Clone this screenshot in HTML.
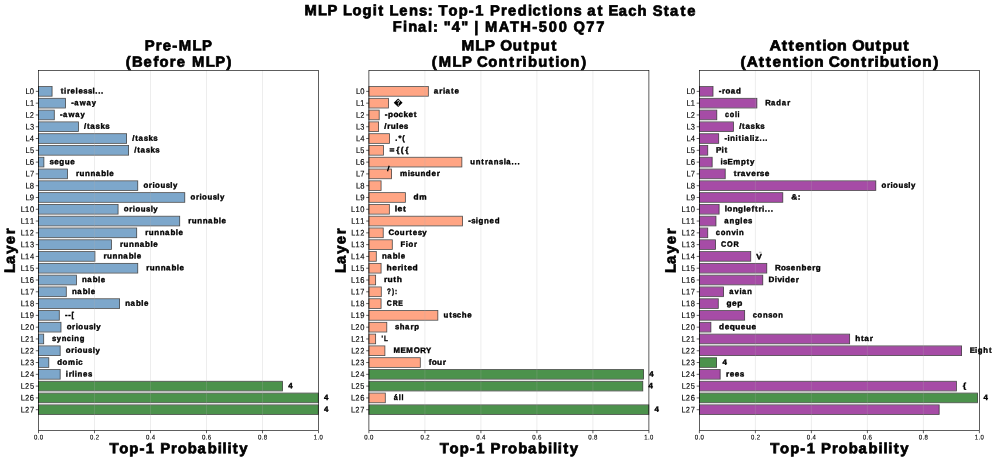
<!DOCTYPE html>
<html><head><meta charset="utf-8"><title>MLP Logit Lens</title>
<style>
html,body{margin:0;padding:0;background:#fff;}
body{width:996px;height:461px;overflow:hidden;font-family:"Liberation Sans",sans-serif;}
svg{display:block;will-change:transform;}
text{font-family:"Liberation Sans",sans-serif;white-space:pre;font-kerning:none;text-rendering:geometricPrecision;}
</style></head><body>
<svg width="996" height="461" viewBox="0 0 996 461" font-family="'Liberation Sans', sans-serif" fill="#000">
<rect width="996" height="461" fill="#fff"/>
<text transform="translate(303.33 15.3) rotate(0.06) scale(0.9939 1)" x="1.08 14.84 24.35 34.51 39.91 49.37 59.51 69.8 75.3 81.32 86.73 96.45 106.28 116.28 125.12 130.5 136.02 146.02 156.35 166.56 173.07 182.2 187.82 198.9 205.92 215.66 225.96 230.47 240.11 246.58 251.62 261.84 271.84 280.23 285.58 296.1 302.12 307.17 317.45 326.97 336.32 346.05 351.51 362.59 368.89 379.4 386.18" font-size="14.82" font-weight="bold" stroke="#000" stroke-width="0.73">MLP Logit Lens: Top-1 Predictions at Each State</text>
<text transform="translate(392.56 31.6) rotate(0.06) scale(0.9890 1)" x="0.31 10.48 15.75 25.78 35.83 40.86 46.26 51.67 59.9 69.51 76.84 82.55 87.3 93.53 107.33 118.81 129.13 141.2 147.71 157.89 168.1 177.31 182.88 195.77 205.97" font-size="14.82" font-weight="bold" stroke="#000" stroke-width="0.73">Final: &quot;4&quot; | MATH-500 Q77</text>
<g>
<rect x="38.5" y="86.82" width="13.5" height="9.1" fill="rgb(125,167,203)"/>
<rect x="38.5" y="86.52" width="13.6" height="9.7" fill="none" stroke="#000" stroke-opacity="0.7" stroke-width="0.8"/>
<rect x="38.5" y="98.61" width="26.87" height="9.1" fill="rgb(125,167,203)"/>
<rect x="38.5" y="98.31" width="26.97" height="9.7" fill="none" stroke="#000" stroke-opacity="0.7" stroke-width="0.8"/>
<rect x="38.5" y="110.4" width="15.7" height="9.1" fill="rgb(125,167,203)"/>
<rect x="38.5" y="110.1" width="15.8" height="9.7" fill="none" stroke="#000" stroke-opacity="0.7" stroke-width="0.8"/>
<rect x="38.5" y="122.19" width="39.8" height="9.1" fill="rgb(125,167,203)"/>
<rect x="38.5" y="121.89" width="39.9" height="9.7" fill="none" stroke="#000" stroke-opacity="0.7" stroke-width="0.8"/>
<rect x="38.5" y="133.98" width="88" height="9.1" fill="rgb(125,167,203)"/>
<rect x="38.5" y="133.68" width="88.1" height="9.7" fill="none" stroke="#000" stroke-opacity="0.7" stroke-width="0.8"/>
<rect x="38.5" y="145.77" width="90" height="9.1" fill="rgb(125,167,203)"/>
<rect x="38.5" y="145.47" width="90.1" height="9.7" fill="none" stroke="#000" stroke-opacity="0.7" stroke-width="0.8"/>
<rect x="38.5" y="157.56" width="5.3" height="9.1" fill="rgb(125,167,203)"/>
<rect x="38.5" y="157.26" width="5.4" height="9.7" fill="none" stroke="#000" stroke-opacity="0.7" stroke-width="0.8"/>
<rect x="38.5" y="169.35" width="28.9" height="9.1" fill="rgb(125,167,203)"/>
<rect x="38.5" y="169.05" width="29" height="9.7" fill="none" stroke="#000" stroke-opacity="0.7" stroke-width="0.8"/>
<rect x="38.5" y="181.14" width="99.15" height="9.1" fill="rgb(125,167,203)"/>
<rect x="38.5" y="180.84" width="99.25" height="9.7" fill="none" stroke="#000" stroke-opacity="0.7" stroke-width="0.8"/>
<rect x="38.5" y="192.93" width="146.17" height="9.1" fill="rgb(125,167,203)"/>
<rect x="38.5" y="192.63" width="146.27" height="9.7" fill="none" stroke="#000" stroke-opacity="0.7" stroke-width="0.8"/>
<rect x="38.5" y="204.72" width="79.5" height="9.1" fill="rgb(125,167,203)"/>
<rect x="38.5" y="204.42" width="79.6" height="9.7" fill="none" stroke="#000" stroke-opacity="0.7" stroke-width="0.8"/>
<rect x="38.5" y="216.51" width="141.1" height="9.1" fill="rgb(125,167,203)"/>
<rect x="38.5" y="216.21" width="141.2" height="9.7" fill="none" stroke="#000" stroke-opacity="0.7" stroke-width="0.8"/>
<rect x="38.5" y="228.3" width="98.1" height="9.1" fill="rgb(125,167,203)"/>
<rect x="38.5" y="228" width="98.2" height="9.7" fill="none" stroke="#000" stroke-opacity="0.7" stroke-width="0.8"/>
<rect x="38.5" y="240.09" width="72.8" height="9.1" fill="rgb(125,167,203)"/>
<rect x="38.5" y="239.79" width="72.9" height="9.7" fill="none" stroke="#000" stroke-opacity="0.7" stroke-width="0.8"/>
<rect x="38.5" y="251.88" width="56.35" height="9.1" fill="rgb(125,167,203)"/>
<rect x="38.5" y="251.58" width="56.45" height="9.7" fill="none" stroke="#000" stroke-opacity="0.7" stroke-width="0.8"/>
<rect x="38.5" y="263.67" width="99.15" height="9.1" fill="rgb(125,167,203)"/>
<rect x="38.5" y="263.37" width="99.25" height="9.7" fill="none" stroke="#000" stroke-opacity="0.7" stroke-width="0.8"/>
<rect x="38.5" y="275.46" width="37.8" height="9.1" fill="rgb(125,167,203)"/>
<rect x="38.5" y="275.16" width="37.9" height="9.7" fill="none" stroke="#000" stroke-opacity="0.7" stroke-width="0.8"/>
<rect x="38.5" y="287.25" width="27.7" height="9.1" fill="rgb(125,167,203)"/>
<rect x="38.5" y="286.95" width="27.8" height="9.7" fill="none" stroke="#000" stroke-opacity="0.7" stroke-width="0.8"/>
<rect x="38.5" y="299.04" width="81" height="9.1" fill="rgb(125,167,203)"/>
<rect x="38.5" y="298.74" width="81.1" height="9.7" fill="none" stroke="#000" stroke-opacity="0.7" stroke-width="0.8"/>
<rect x="38.5" y="310.83" width="20.7" height="9.1" fill="rgb(125,167,203)"/>
<rect x="38.5" y="310.53" width="20.8" height="9.7" fill="none" stroke="#000" stroke-opacity="0.7" stroke-width="0.8"/>
<rect x="38.5" y="322.62" width="22.4" height="9.1" fill="rgb(125,167,203)"/>
<rect x="38.5" y="322.32" width="22.5" height="9.7" fill="none" stroke="#000" stroke-opacity="0.7" stroke-width="0.8"/>
<rect x="38.5" y="334.41" width="5.1" height="9.1" fill="rgb(125,167,203)"/>
<rect x="38.5" y="334.11" width="5.2" height="9.7" fill="none" stroke="#000" stroke-opacity="0.7" stroke-width="0.8"/>
<rect x="38.5" y="346.2" width="21.6" height="9.1" fill="rgb(125,167,203)"/>
<rect x="38.5" y="345.9" width="21.7" height="9.7" fill="none" stroke="#000" stroke-opacity="0.7" stroke-width="0.8"/>
<rect x="38.5" y="357.99" width="10.2" height="9.1" fill="rgb(125,167,203)"/>
<rect x="38.5" y="357.69" width="10.3" height="9.7" fill="none" stroke="#000" stroke-opacity="0.7" stroke-width="0.8"/>
<rect x="38.5" y="369.78" width="21.6" height="9.1" fill="rgb(125,167,203)"/>
<rect x="38.5" y="369.48" width="21.7" height="9.7" fill="none" stroke="#000" stroke-opacity="0.7" stroke-width="0.8"/>
<rect x="38.5" y="381.57" width="243.9" height="9.1" fill="rgb(76,146,76)"/>
<rect x="38.5" y="381.27" width="244" height="9.7" fill="none" stroke="#000" stroke-opacity="0.7" stroke-width="0.8"/>
<rect x="38.5" y="393.36" width="279.7" height="9.1" fill="rgb(76,146,76)"/>
<rect x="38.5" y="393.06" width="279.8" height="9.7" fill="none" stroke="#000" stroke-opacity="0.7" stroke-width="0.8"/>
<rect x="38.5" y="405.15" width="279.7" height="9.1" fill="rgb(76,146,76)"/>
<rect x="38.5" y="404.85" width="279.8" height="9.7" fill="none" stroke="#000" stroke-opacity="0.7" stroke-width="0.8"/>
<line x1="94.5" y1="70.4" x2="94.5" y2="430.5" stroke="#b0b0b0" stroke-opacity="0.3" stroke-width="0.75"/>
<line x1="150.5" y1="70.4" x2="150.5" y2="430.5" stroke="#b0b0b0" stroke-opacity="0.3" stroke-width="0.75"/>
<line x1="206.5" y1="70.4" x2="206.5" y2="430.5" stroke="#b0b0b0" stroke-opacity="0.3" stroke-width="0.75"/>
<line x1="262.5" y1="70.4" x2="262.5" y2="430.5" stroke="#b0b0b0" stroke-opacity="0.3" stroke-width="0.75"/>
<path d="M35.8 91.37H38.5M35.8 103.16H38.5M35.8 114.95H38.5M35.8 126.74H38.5M35.8 138.53H38.5M35.8 150.32H38.5M35.8 162.11H38.5M35.8 173.9H38.5M35.8 185.69H38.5M35.8 197.48H38.5M35.8 209.27H38.5M35.8 221.06H38.5M35.8 232.85H38.5M35.8 244.64H38.5M35.8 256.43H38.5M35.8 268.22H38.5M35.8 280.01H38.5M35.8 291.8H38.5M35.8 303.59H38.5M35.8 315.38H38.5M35.8 327.17H38.5M35.8 338.96H38.5M35.8 350.75H38.5M35.8 362.54H38.5M35.8 374.33H38.5M35.8 386.12H38.5M35.8 397.91H38.5M35.8 409.7H38.5M38.5 430.5V433.2M94.5 430.5V433.2M150.5 430.5V433.2M206.5 430.5V433.2M262.5 430.5V433.2M318.5 430.5V433.2" stroke="#000" stroke-width="0.62" fill="none"/>
<text transform="translate(60.16 93.47) rotate(0.06) scale(1.0041 1)" x="0.48 3.87 6.72 10.38 15.4 18.16 23.09 27.62 32.25 35 37.9 40.79" font-size="7.82" font-weight="bold" stroke="#000" stroke-width="0.38">tirelessl...</text>
<text transform="translate(70.87 105.26) rotate(0.06) scale(0.9758 1)" x="0.33 3.45 9.13 15.98 21.43" font-size="7.82" font-weight="bold" stroke="#000" stroke-width="0.38">-away</text>
<text transform="translate(59.7 117.05) rotate(0.06) scale(0.9758 1)" x="0.33 3.45 9.13 15.98 21.43" font-size="7.82" font-weight="bold" stroke="#000" stroke-width="0.38">-away</text>
<text transform="translate(83.8 128.84) rotate(0.06) scale(1.0189 1)" x="0.29 3.2 6.42 11.5 16.3 20.96" font-size="7.82" font-weight="bold" stroke="#000" stroke-width="0.38">/tasks</text>
<text transform="translate(132 140.63) rotate(0.06) scale(1.0189 1)" x="0.29 3.2 6.42 11.5 16.3 20.96" font-size="7.82" font-weight="bold" stroke="#000" stroke-width="0.38">/tasks</text>
<text transform="translate(134 152.42) rotate(0.06) scale(1.0189 1)" x="0.29 3.2 6.42 11.5 16.3 20.96" font-size="7.82" font-weight="bold" stroke="#000" stroke-width="0.38">/tasks</text>
<text transform="translate(49.3 164.21) rotate(0.06) scale(1.0288 1)" x="0.08 4.73 9.7 15.04 20.39" font-size="7.82" font-weight="bold" stroke="#000" stroke-width="0.38">segue</text>
<text transform="translate(75.56 176) rotate(0.06) scale(1.0196 1)" x="0.43 3.98 9.33 14.67 19.81 25.13 30.36 33.06" font-size="7.82" font-weight="bold" stroke="#000" stroke-width="0.38">runnable</text>
<text transform="translate(143.15 187.79) rotate(0.06) scale(1.0007 1)" x="0.24 5.73 9.25 11.88 17.22 22.48 27.11 29.79" font-size="7.82" font-weight="bold" stroke="#000" stroke-width="0.38">oriously</text>
<text transform="translate(190.17 199.58) rotate(0.06) scale(1.0007 1)" x="0.24 5.73 9.25 11.88 17.22 22.48 27.11 29.79" font-size="7.82" font-weight="bold" stroke="#000" stroke-width="0.38">oriously</text>
<text transform="translate(123.5 211.37) rotate(0.06) scale(1.0007 1)" x="0.24 5.73 9.25 11.88 17.22 22.48 27.11 29.79" font-size="7.82" font-weight="bold" stroke="#000" stroke-width="0.38">oriously</text>
<text transform="translate(187.76 223.16) rotate(0.06) scale(1.0196 1)" x="0.43 3.98 9.33 14.67 19.81 25.13 30.36 33.06" font-size="7.82" font-weight="bold" stroke="#000" stroke-width="0.38">runnable</text>
<text transform="translate(144.76 234.95) rotate(0.06) scale(1.0196 1)" x="0.43 3.98 9.33 14.67 19.81 25.13 30.36 33.06" font-size="7.82" font-weight="bold" stroke="#000" stroke-width="0.38">runnable</text>
<text transform="translate(119.46 246.74) rotate(0.06) scale(1.0196 1)" x="0.43 3.98 9.33 14.67 19.81 25.13 30.36 33.06" font-size="7.82" font-weight="bold" stroke="#000" stroke-width="0.38">runnable</text>
<text transform="translate(103.01 258.53) rotate(0.06) scale(1.0196 1)" x="0.43 3.98 9.33 14.67 19.81 25.13 30.36 33.06" font-size="7.82" font-weight="bold" stroke="#000" stroke-width="0.38">runnable</text>
<text transform="translate(145.81 270.32) rotate(0.06) scale(1.0196 1)" x="0.43 3.98 9.33 14.67 19.81 25.13 30.36 33.06" font-size="7.82" font-weight="bold" stroke="#000" stroke-width="0.38">runnable</text>
<text transform="translate(81.8 282.11) rotate(0.06) scale(1.0066 1)" x="0.32 5.53 10.92 16.2 18.95" font-size="7.82" font-weight="bold" stroke="#000" stroke-width="0.38">nable</text>
<text transform="translate(71.7 293.9) rotate(0.06) scale(1.0066 1)" x="0.32 5.53 10.92 16.2 18.95" font-size="7.82" font-weight="bold" stroke="#000" stroke-width="0.38">nable</text>
<text transform="translate(125 305.69) rotate(0.06) scale(1.0066 1)" x="0.32 5.53 10.92 16.2 18.95" font-size="7.82" font-weight="bold" stroke="#000" stroke-width="0.38">nable</text>
<text transform="translate(64.7 317.48) rotate(0.06) scale(0.9709 1)" x="0.34 3.61 6.94" font-size="7.82" font-weight="bold" stroke="#000" stroke-width="0.38">--[</text>
<text transform="translate(66.4 329.27) rotate(0.06) scale(1.0007 1)" x="0.24 5.73 9.25 11.88 17.22 22.48 27.11 29.79" font-size="7.82" font-weight="bold" stroke="#000" stroke-width="0.38">oriously</text>
<text transform="translate(51.76 341.06) rotate(0.06) scale(0.9770 1)" x="0.2 5.01 10.17 15.35 20.24 23.07 28.6" font-size="7.82" font-weight="bold" stroke="#000" stroke-width="0.38">syncing</text>
<text transform="translate(65.6 352.85) rotate(0.06) scale(1.0007 1)" x="0.24 5.73 9.25 11.88 17.22 22.48 27.11 29.79" font-size="7.82" font-weight="bold" stroke="#000" stroke-width="0.38">oriously</text>
<text transform="translate(56.86 364.64) rotate(0.06) scale(0.9998 1)" x="0.3 5.72 11.24 18.94 21.29" font-size="7.82" font-weight="bold" stroke="#000" stroke-width="0.38">domic</text>
<text transform="translate(65.6 376.43) rotate(0.06) scale(1.0001 1)" x="0.23 3.1 6.62 9.24 11.98 17.46 22.41" font-size="7.82" font-weight="bold" stroke="#000" stroke-width="0.38">irlines</text>
<text transform="translate(287.9 388.22) rotate(0.06) scale(1.0138 1)" x="0.41" font-size="7.82" font-weight="bold" stroke="#000" stroke-width="0.38">4</text>
<text transform="translate(323.7 400.01) rotate(0.06) scale(1.0138 1)" x="0.41" font-size="7.82" font-weight="bold" stroke="#000" stroke-width="0.38">4</text>
<text transform="translate(323.7 411.8) rotate(0.06) scale(1.0138 1)" x="0.41" font-size="7.82" font-weight="bold" stroke="#000" stroke-width="0.38">4</text>
<rect x="38.5" y="70.4" width="280" height="360.1" fill="none" stroke="#000" stroke-width="0.63"/>
<text transform="translate(25.33 94.07) rotate(0.06) scale(0.9331 1)" x="0.19 4.87" font-size="8.13" stroke="#000" stroke-width="0.15">L0</text>
<text transform="translate(25.33 105.86) rotate(0.06) scale(0.9085 1)" x="0.26 5.02" font-size="8.13" stroke="#000" stroke-width="0.15">L1</text>
<text transform="translate(25.33 117.65) rotate(0.06) scale(0.9137 1)" x="0.24 4.91" font-size="8.13" stroke="#000" stroke-width="0.15">L2</text>
<text transform="translate(25.33 129.44) rotate(0.06) scale(0.9127 1)" x="0.25 5.03" font-size="8.13" stroke="#000" stroke-width="0.15">L3</text>
<text transform="translate(25.33 141.23) rotate(0.06) scale(0.9346 1)" x="0.18 4.85" font-size="8.13" stroke="#000" stroke-width="0.15">L4</text>
<text transform="translate(25.33 153.02) rotate(0.06) scale(0.9042 1)" x="0.27 5.06" font-size="8.13" stroke="#000" stroke-width="0.15">L5</text>
<text transform="translate(25.33 164.81) rotate(0.06) scale(0.9498 1)" x="0.14 4.74" font-size="8.13" stroke="#000" stroke-width="0.15">L6</text>
<text transform="translate(25.33 176.6) rotate(0.06) scale(0.9209 1)" x="0.22 4.94" font-size="8.13" stroke="#000" stroke-width="0.15">L7</text>
<text transform="translate(25.33 188.39) rotate(0.06) scale(0.9381 1)" x="0.17 4.83" font-size="8.13" stroke="#000" stroke-width="0.15">L8</text>
<text transform="translate(25.33 200.18) rotate(0.06) scale(0.9488 1)" x="0.14 4.72" font-size="8.13" stroke="#000" stroke-width="0.15">L9</text>
<text transform="translate(20.5 211.97) rotate(0.06) scale(0.9218 1)" x="0.22 4.92 10.2" font-size="8.13" stroke="#000" stroke-width="0.15">L10</text>
<text transform="translate(20.5 223.76) rotate(0.06) scale(0.9049 1)" x="0.27 5.05 10.4" font-size="8.13" stroke="#000" stroke-width="0.15">L11</text>
<text transform="translate(20.5 235.55) rotate(0.06) scale(0.9085 1)" x="0.26 5.02 10.27" font-size="8.13" stroke="#000" stroke-width="0.15">L12</text>
<text transform="translate(20.5 247.34) rotate(0.06) scale(0.9078 1)" x="0.26 5.03 10.4" font-size="8.13" stroke="#000" stroke-width="0.15">L13</text>
<text transform="translate(20.5 259.13) rotate(0.06) scale(0.9230 1)" x="0.22 4.91 10.18" font-size="8.13" stroke="#000" stroke-width="0.15">L14</text>
<text transform="translate(20.5 270.92) rotate(0.06) scale(0.9021 1)" x="0.28 5.08 10.44" font-size="8.13" stroke="#000" stroke-width="0.15">L15</text>
<text transform="translate(20.5 282.71) rotate(0.06) scale(0.9329 1)" x="0.19 4.83 10.05" font-size="8.13" stroke="#000" stroke-width="0.15">L16</text>
<text transform="translate(20.5 294.5) rotate(0.06) scale(0.9133 1)" x="0.24 4.98 10.3" font-size="8.13" stroke="#000" stroke-width="0.15">L17</text>
<text transform="translate(20.5 306.29) rotate(0.06) scale(0.9251 1)" x="0.21 4.89 10.15" font-size="8.13" stroke="#000" stroke-width="0.15">L18</text>
<text transform="translate(20.5 318.08) rotate(0.06) scale(0.9322 1)" x="0.19 4.83 10.03" font-size="8.13" stroke="#000" stroke-width="0.15">L19</text>
<text transform="translate(20.5 329.87) rotate(0.06) scale(0.9250 1)" x="0.21 4.82 10.16" font-size="8.13" stroke="#000" stroke-width="0.15">L20</text>
<text transform="translate(20.5 341.66) rotate(0.06) scale(0.9085 1)" x="0.26 4.95 10.35" font-size="8.13" stroke="#000" stroke-width="0.15">L21</text>
<text transform="translate(20.5 353.45) rotate(0.06) scale(0.9120 1)" x="0.25 4.92 10.22" font-size="8.13" stroke="#000" stroke-width="0.15">L22</text>
<text transform="translate(20.5 365.24) rotate(0.06) scale(0.9113 1)" x="0.25 4.93 10.35" font-size="8.13" stroke="#000" stroke-width="0.15">L23</text>
<text transform="translate(20.5 377.03) rotate(0.06) scale(0.9261 1)" x="0.21 4.81 10.14" font-size="8.13" stroke="#000" stroke-width="0.15">L24</text>
<text transform="translate(20.5 388.82) rotate(0.06) scale(0.9057 1)" x="0.27 4.97 10.39" font-size="8.13" stroke="#000" stroke-width="0.15">L25</text>
<text transform="translate(20.5 400.61) rotate(0.06) scale(0.9360 1)" x="0.18 4.74 10.01" font-size="8.13" stroke="#000" stroke-width="0.15">L26</text>
<text transform="translate(20.5 412.4) rotate(0.06) scale(0.9167 1)" x="0.23 4.88 10.25" font-size="8.13" stroke="#000" stroke-width="0.15">L27</text>
<text transform="translate(33.69 439.45) rotate(0.06) scale(0.8846 1)" x="0.27 4.49 6.8" font-size="6.84" stroke="#000" stroke-width="0.12">0.0</text>
<text transform="translate(89.79 439.45) rotate(0.06) scale(0.8686 1)" x="0.31 4.59 6.87" font-size="6.84" stroke="#000" stroke-width="0.12">0.2</text>
<text transform="translate(145.66 439.45) rotate(0.06) scale(0.8858 1)" x="0.27 4.48 6.78" font-size="6.84" stroke="#000" stroke-width="0.12">0.4</text>
<text transform="translate(201.68 439.45) rotate(0.06) scale(0.8984 1)" x="0.24 4.4 6.67" font-size="6.84" stroke="#000" stroke-width="0.12">0.6</text>
<text transform="translate(257.7 439.45) rotate(0.06) scale(0.8887 1)" x="0.26 4.46 6.76" font-size="6.84" stroke="#000" stroke-width="0.12">0.8</text>
<text transform="translate(313.56 439.45) rotate(0.06) scale(0.8644 1)" x="0.29 4.61 7" font-size="6.84" stroke="#000" stroke-width="0.12">1.0</text>
<text transform="translate(144.17 50.45) rotate(0.06) scale(1.0044 1)" x="0.47 11.47 18.4 28.03 34.49 48.12 57.52" font-size="14.82" font-weight="bold" stroke="#000" stroke-width="0.73">Pre-MLP</text>
<text transform="translate(125.13 66.65) rotate(0.06) scale(0.9958 1)" x="0.54 6.85 18.49 28.39 34.44 44.89 51.89 61.02 67.16 80.89 90.38 101.71" font-size="14.82" font-weight="bold" stroke="#000" stroke-width="0.73">(Before MLP)</text>
<text transform="translate(109.08 453.15) rotate(0.06) scale(1.0154 1)" x="0.33 9.98 19.95 29.86 36.1 45.01 50.32 61.06 67.55 77.52 87.11 97.11 106.91 111.74 116.56 121.86 128.2" font-size="14.61" font-weight="bold" stroke="#000" stroke-width="0.72">Top-1 Probability</text>
<g transform="translate(14.7 250) rotate(-90)">
<text transform="translate(-23.37 0) rotate(0.06) scale(1.0014 1)" x="0.29 9.47 19.54 29.15 39.16" font-size="14.82" font-weight="bold" stroke="#000" stroke-width="0.73">Layer</text>
</g>
</g>
<g>
<rect x="368.9" y="86.82" width="59.35" height="9.1" fill="rgb(255,165,132)"/>
<rect x="368.9" y="86.52" width="59.45" height="9.7" fill="none" stroke="#000" stroke-opacity="0.7" stroke-width="0.8"/>
<rect x="368.9" y="98.61" width="19.5" height="9.1" fill="rgb(255,165,132)"/>
<rect x="368.9" y="98.31" width="19.6" height="9.7" fill="none" stroke="#000" stroke-opacity="0.7" stroke-width="0.8"/>
<rect x="368.9" y="110.4" width="10.2" height="9.1" fill="rgb(255,165,132)"/>
<rect x="368.9" y="110.1" width="10.3" height="9.7" fill="none" stroke="#000" stroke-opacity="0.7" stroke-width="0.8"/>
<rect x="368.9" y="122.19" width="9.6" height="9.1" fill="rgb(255,165,132)"/>
<rect x="368.9" y="121.89" width="9.7" height="9.7" fill="none" stroke="#000" stroke-opacity="0.7" stroke-width="0.8"/>
<rect x="368.9" y="133.98" width="20.56" height="9.1" fill="rgb(255,165,132)"/>
<rect x="368.9" y="133.68" width="20.66" height="9.7" fill="none" stroke="#000" stroke-opacity="0.7" stroke-width="0.8"/>
<rect x="368.9" y="145.77" width="14.4" height="9.1" fill="rgb(255,165,132)"/>
<rect x="368.9" y="145.47" width="14.5" height="9.7" fill="none" stroke="#000" stroke-opacity="0.7" stroke-width="0.8"/>
<rect x="368.9" y="157.56" width="92.87" height="9.1" fill="rgb(255,165,132)"/>
<rect x="368.9" y="157.26" width="92.97" height="9.7" fill="none" stroke="#000" stroke-opacity="0.7" stroke-width="0.8"/>
<rect x="368.9" y="169.35" width="22.55" height="9.1" fill="rgb(255,165,132)"/>
<rect x="368.9" y="169.05" width="22.65" height="9.7" fill="none" stroke="#000" stroke-opacity="0.7" stroke-width="0.8"/>
<rect x="368.9" y="181.14" width="12.1" height="9.1" fill="rgb(255,165,132)"/>
<rect x="368.9" y="180.84" width="12.2" height="9.7" fill="none" stroke="#000" stroke-opacity="0.7" stroke-width="0.8"/>
<rect x="368.9" y="192.93" width="36.37" height="9.1" fill="rgb(255,165,132)"/>
<rect x="368.9" y="192.63" width="36.47" height="9.7" fill="none" stroke="#000" stroke-opacity="0.7" stroke-width="0.8"/>
<rect x="368.9" y="204.72" width="20.35" height="9.1" fill="rgb(255,165,132)"/>
<rect x="368.9" y="204.42" width="20.45" height="9.7" fill="none" stroke="#000" stroke-opacity="0.7" stroke-width="0.8"/>
<rect x="368.9" y="216.51" width="93.5" height="9.1" fill="rgb(255,165,132)"/>
<rect x="368.9" y="216.21" width="93.6" height="9.7" fill="none" stroke="#000" stroke-opacity="0.7" stroke-width="0.8"/>
<rect x="368.9" y="228.3" width="14.23" height="9.1" fill="rgb(255,165,132)"/>
<rect x="368.9" y="228" width="14.33" height="9.7" fill="none" stroke="#000" stroke-opacity="0.7" stroke-width="0.8"/>
<rect x="368.9" y="240.09" width="23.3" height="9.1" fill="rgb(255,165,132)"/>
<rect x="368.9" y="239.79" width="23.4" height="9.7" fill="none" stroke="#000" stroke-opacity="0.7" stroke-width="0.8"/>
<rect x="368.9" y="251.88" width="7.3" height="9.1" fill="rgb(255,165,132)"/>
<rect x="368.9" y="251.58" width="7.4" height="9.7" fill="none" stroke="#000" stroke-opacity="0.7" stroke-width="0.8"/>
<rect x="368.9" y="263.67" width="12.1" height="9.1" fill="rgb(255,165,132)"/>
<rect x="368.9" y="263.37" width="12.2" height="9.7" fill="none" stroke="#000" stroke-opacity="0.7" stroke-width="0.8"/>
<rect x="368.9" y="275.46" width="6.64" height="9.1" fill="rgb(255,165,132)"/>
<rect x="368.9" y="275.16" width="6.74" height="9.7" fill="none" stroke="#000" stroke-opacity="0.7" stroke-width="0.8"/>
<rect x="368.9" y="287.25" width="12.3" height="9.1" fill="rgb(255,165,132)"/>
<rect x="368.9" y="286.95" width="12.4" height="9.7" fill="none" stroke="#000" stroke-opacity="0.7" stroke-width="0.8"/>
<rect x="368.9" y="299.04" width="12.1" height="9.1" fill="rgb(255,165,132)"/>
<rect x="368.9" y="298.74" width="12.2" height="9.7" fill="none" stroke="#000" stroke-opacity="0.7" stroke-width="0.8"/>
<rect x="368.9" y="310.83" width="68.84" height="9.1" fill="rgb(255,165,132)"/>
<rect x="368.9" y="310.53" width="68.94" height="9.7" fill="none" stroke="#000" stroke-opacity="0.7" stroke-width="0.8"/>
<rect x="368.9" y="322.62" width="17.8" height="9.1" fill="rgb(255,165,132)"/>
<rect x="368.9" y="322.32" width="17.9" height="9.7" fill="none" stroke="#000" stroke-opacity="0.7" stroke-width="0.8"/>
<rect x="368.9" y="334.41" width="6.64" height="9.1" fill="rgb(255,165,132)"/>
<rect x="368.9" y="334.11" width="6.74" height="9.7" fill="none" stroke="#000" stroke-opacity="0.7" stroke-width="0.8"/>
<rect x="368.9" y="346.2" width="15.9" height="9.1" fill="rgb(255,165,132)"/>
<rect x="368.9" y="345.9" width="16" height="9.7" fill="none" stroke="#000" stroke-opacity="0.7" stroke-width="0.8"/>
<rect x="368.9" y="357.99" width="51.3" height="9.1" fill="rgb(255,165,132)"/>
<rect x="368.9" y="357.69" width="51.4" height="9.7" fill="none" stroke="#000" stroke-opacity="0.7" stroke-width="0.8"/>
<rect x="368.9" y="369.78" width="274.54" height="9.1" fill="rgb(76,146,76)"/>
<rect x="368.9" y="369.48" width="274.64" height="9.7" fill="none" stroke="#000" stroke-opacity="0.7" stroke-width="0.8"/>
<rect x="368.9" y="381.57" width="273.8" height="9.1" fill="rgb(76,146,76)"/>
<rect x="368.9" y="381.27" width="273.9" height="9.7" fill="none" stroke="#000" stroke-opacity="0.7" stroke-width="0.8"/>
<rect x="368.9" y="393.36" width="16.3" height="9.1" fill="rgb(255,165,132)"/>
<rect x="368.9" y="393.06" width="16.4" height="9.7" fill="none" stroke="#000" stroke-opacity="0.7" stroke-width="0.8"/>
<rect x="368.9" y="405.15" width="279.8" height="9.1" fill="rgb(76,146,76)"/>
<rect x="368.9" y="404.85" width="279.9" height="9.7" fill="none" stroke="#000" stroke-opacity="0.7" stroke-width="0.8"/>
<line x1="424.9" y1="70.4" x2="424.9" y2="430.5" stroke="#b0b0b0" stroke-opacity="0.3" stroke-width="0.75"/>
<line x1="480.9" y1="70.4" x2="480.9" y2="430.5" stroke="#b0b0b0" stroke-opacity="0.3" stroke-width="0.75"/>
<line x1="536.9" y1="70.4" x2="536.9" y2="430.5" stroke="#b0b0b0" stroke-opacity="0.3" stroke-width="0.75"/>
<line x1="592.9" y1="70.4" x2="592.9" y2="430.5" stroke="#b0b0b0" stroke-opacity="0.3" stroke-width="0.75"/>
<path d="M366.2 91.37H368.9M366.2 103.16H368.9M366.2 114.95H368.9M366.2 126.74H368.9M366.2 138.53H368.9M366.2 150.32H368.9M366.2 162.11H368.9M366.2 173.9H368.9M366.2 185.69H368.9M366.2 197.48H368.9M366.2 209.27H368.9M366.2 221.06H368.9M366.2 232.85H368.9M366.2 244.64H368.9M366.2 256.43H368.9M366.2 268.22H368.9M366.2 280.01H368.9M366.2 291.8H368.9M366.2 303.59H368.9M366.2 315.38H368.9M366.2 327.17H368.9M366.2 338.96H368.9M366.2 350.75H368.9M366.2 362.54H368.9M366.2 374.33H368.9M366.2 386.12H368.9M366.2 397.91H368.9M366.2 409.7H368.9M368.9 430.5V433.2M424.9 430.5V433.2M480.9 430.5V433.2M536.9 430.5V433.2M592.9 430.5V433.2M648.9 430.5V433.2" stroke="#000" stroke-width="0.62" fill="none"/>
<text transform="translate(433.75 93.47) rotate(0.06) scale(1.0265 1)" x="0.07 5.45 8.9 11.33 16.73 20.16" font-size="7.82" font-weight="bold" stroke="#000" stroke-width="0.38">ariate</text>
<path d="M398.16 98.48L402.58 102.8L398.16 107.12L393.73 102.8Z" fill="#000"/>
<path d="M397.26 101.5Q397.46 100.3 398.46 100.4Q399.56 100.6 399.36 101.6Q399.16 102.4 398.36 103L398.31 103.8" fill="none" stroke="#fff" stroke-width="1.0"/>
<circle cx="398.31" cy="105" r="0.55" fill="#fff"/>
<text transform="translate(384.6 117.05) rotate(0.06) scale(1.0423 1)" x="0.23 3.33 8.43 13.22 18.06 22.85 27.97" font-size="7.82" font-weight="bold" stroke="#000" stroke-width="0.38">-pocket</text>
<text transform="translate(384 128.84) rotate(0.06) scale(1.0375 1)" x="0.26 3.09 6.56 11.76 14.39 19.17" font-size="7.82" font-weight="bold" stroke="#000" stroke-width="0.38">/rules</text>
<text transform="translate(394.96 140.63) rotate(0.06) scale(0.9677 1)" x="0.42 3.54 7.47" font-size="7.82" font-weight="bold" stroke="#000" stroke-width="0.38">.*(</text>
<text transform="translate(388.8 152.42) rotate(0.06) scale(1.0791 1)" x="0.69 6.96 11.13 15.25" font-size="7.82" font-weight="bold" stroke="#000" stroke-width="0.38">={({</text>
<text transform="translate(469.93 164.21) rotate(0.06) scale(0.9855 1)" x="0.37 5.91 11.57 15.27 18.76 24.21 29.53 34.23 36.81 42.27 45.22 48.17" font-size="7.82" font-weight="bold" stroke="#000" stroke-width="0.38">untransla...</text>
<text transform="translate(399.61 176) rotate(0.06) scale(1.0299 1)" x="0.39 7.93 10.36 14.96 20.26 25.51 30.91 36.05" font-size="7.82" font-weight="bold" stroke="#000" stroke-width="0.38">misunder</text>
<text transform="translate(413.43 199.58) rotate(0.06) scale(1.0571 1)" x="0.16 5.47" font-size="7.82" font-weight="bold" stroke="#000" stroke-width="0.38">dm</text>
<text transform="translate(394.75 211.37) rotate(0.06) scale(1.1101 1)" x="0.1 2.49 7.35" font-size="7.82" font-weight="bold" stroke="#000" stroke-width="0.38">let</text>
<text transform="translate(467.9 223.16) rotate(0.06) scale(1.0109 1)" x="0.27 3.26 7.86 10.51 15.97 21.4 26.45" font-size="7.82" font-weight="bold" stroke="#000" stroke-width="0.38">-signed</text>
<text transform="translate(388.63 234.95) rotate(0.06) scale(1.0125 1)" x="-0.16 5.75 11.03 16.56 20.31 23.8 28.69 33.33" font-size="7.82" font-weight="bold" stroke="#000" stroke-width="0.38">Courtesy</text>
<text transform="translate(400.36 246.74) rotate(0.06) scale(0.9812 1)" x="0.19 5.58 8.29 13.87" font-size="7.82" font-weight="bold" stroke="#000" stroke-width="0.38">Fior</text>
<text transform="translate(381.7 258.53) rotate(0.06) scale(1.0066 1)" x="0.32 5.53 10.92 16.2 18.95" font-size="7.82" font-weight="bold" stroke="#000" stroke-width="0.38">nable</text>
<text transform="translate(386.5 270.32) rotate(0.06) scale(1.0802 1)" x="0.12 5.23 10.16 13.47 16.12 19.34 24.06" font-size="7.82" font-weight="bold" stroke="#000" stroke-width="0.38">herited</text>
<text transform="translate(383.7 282.11) rotate(0.06) scale(1.0833 1)" x="0.31 3.6 8.86 12" font-size="7.82" font-weight="bold" stroke="#000" stroke-width="0.38">ruth</text>
<text transform="translate(386.7 293.9) rotate(0.06) scale(0.8032 1)" x="0.44 6.56 10.48" font-size="7.82" font-weight="bold" stroke="#000" stroke-width="0.38">?):</text>
<text transform="translate(386.5 305.69) rotate(0.06) scale(0.8710 1)" x="0.28 7.14 13.57" font-size="7.82" font-weight="bold" stroke="#000" stroke-width="0.38">CRE</text>
<text transform="translate(443.24 317.48) rotate(0.06) scale(1.0095 1)" x="0.3 5.87 9.14 13.47 18.32 23.77" font-size="7.82" font-weight="bold" stroke="#000" stroke-width="0.38">utsche</text>
<text transform="translate(394.86 329.27) rotate(0.06) scale(0.9946 1)" x="0.15 4.92 10.2 15.73 19.45" font-size="7.82" font-weight="bold" stroke="#000" stroke-width="0.38">sharp</text>
<text transform="translate(381.04 341.06) rotate(0.06) scale(0.8085 1)" x="0.51 3.69" font-size="7.82" font-weight="bold" stroke="#000" stroke-width="0.38">&#x27;L</text>
<text transform="translate(392.96 352.85) rotate(0.06) scale(0.9957 1)" x="0.56 7.62 13.46 20.77 27.3 33.16" font-size="7.82" font-weight="bold" stroke="#000" stroke-width="0.38">MEMORY</text>
<text transform="translate(428.36 364.64) rotate(0.06) scale(1.0621 1)" x="0.29 3.22 8.25 13.56" font-size="7.82" font-weight="bold" stroke="#000" stroke-width="0.38">four</text>
<text transform="translate(648.94 376.43) rotate(0.06) scale(1.0138 1)" x="0.41" font-size="7.82" font-weight="bold" stroke="#000" stroke-width="0.38">4</text>
<text transform="translate(648.2 388.22) rotate(0.06) scale(1.0138 1)" x="0.41" font-size="7.82" font-weight="bold" stroke="#000" stroke-width="0.38">4</text>
<text transform="translate(393.36 400.01) rotate(0.06) scale(0.9121 1)" x="0.4 6.01 8.89" font-size="7.82" font-weight="bold" stroke="#000" stroke-width="0.38">áll</text>
<text transform="translate(654.2 411.8) rotate(0.06) scale(1.0138 1)" x="0.41" font-size="7.82" font-weight="bold" stroke="#000" stroke-width="0.38">4</text>
<rect x="368.9" y="70.4" width="280" height="360.1" fill="none" stroke="#000" stroke-width="0.63"/>
<text transform="translate(355.73 94.07) rotate(0.06) scale(0.9331 1)" x="0.19 4.87" font-size="8.13" stroke="#000" stroke-width="0.15">L0</text>
<text transform="translate(355.73 105.86) rotate(0.06) scale(0.9085 1)" x="0.26 5.02" font-size="8.13" stroke="#000" stroke-width="0.15">L1</text>
<text transform="translate(355.73 117.65) rotate(0.06) scale(0.9137 1)" x="0.24 4.91" font-size="8.13" stroke="#000" stroke-width="0.15">L2</text>
<text transform="translate(355.73 129.44) rotate(0.06) scale(0.9127 1)" x="0.25 5.03" font-size="8.13" stroke="#000" stroke-width="0.15">L3</text>
<text transform="translate(355.73 141.23) rotate(0.06) scale(0.9346 1)" x="0.18 4.85" font-size="8.13" stroke="#000" stroke-width="0.15">L4</text>
<text transform="translate(355.73 153.02) rotate(0.06) scale(0.9042 1)" x="0.27 5.06" font-size="8.13" stroke="#000" stroke-width="0.15">L5</text>
<text transform="translate(355.73 164.81) rotate(0.06) scale(0.9498 1)" x="0.14 4.74" font-size="8.13" stroke="#000" stroke-width="0.15">L6</text>
<text transform="translate(355.73 176.6) rotate(0.06) scale(0.9209 1)" x="0.22 4.94" font-size="8.13" stroke="#000" stroke-width="0.15">L7</text>
<text transform="translate(355.73 188.39) rotate(0.06) scale(0.9381 1)" x="0.17 4.83" font-size="8.13" stroke="#000" stroke-width="0.15">L8</text>
<text transform="translate(355.73 200.18) rotate(0.06) scale(0.9488 1)" x="0.14 4.72" font-size="8.13" stroke="#000" stroke-width="0.15">L9</text>
<text transform="translate(350.9 211.97) rotate(0.06) scale(0.9218 1)" x="0.22 4.92 10.2" font-size="8.13" stroke="#000" stroke-width="0.15">L10</text>
<text transform="translate(350.9 223.76) rotate(0.06) scale(0.9049 1)" x="0.27 5.05 10.4" font-size="8.13" stroke="#000" stroke-width="0.15">L11</text>
<text transform="translate(350.9 235.55) rotate(0.06) scale(0.9085 1)" x="0.26 5.02 10.27" font-size="8.13" stroke="#000" stroke-width="0.15">L12</text>
<text transform="translate(350.9 247.34) rotate(0.06) scale(0.9078 1)" x="0.26 5.03 10.4" font-size="8.13" stroke="#000" stroke-width="0.15">L13</text>
<text transform="translate(350.9 259.13) rotate(0.06) scale(0.9230 1)" x="0.22 4.91 10.18" font-size="8.13" stroke="#000" stroke-width="0.15">L14</text>
<text transform="translate(350.9 270.92) rotate(0.06) scale(0.9021 1)" x="0.28 5.08 10.44" font-size="8.13" stroke="#000" stroke-width="0.15">L15</text>
<text transform="translate(350.9 282.71) rotate(0.06) scale(0.9329 1)" x="0.19 4.83 10.05" font-size="8.13" stroke="#000" stroke-width="0.15">L16</text>
<text transform="translate(350.9 294.5) rotate(0.06) scale(0.9133 1)" x="0.24 4.98 10.3" font-size="8.13" stroke="#000" stroke-width="0.15">L17</text>
<text transform="translate(350.9 306.29) rotate(0.06) scale(0.9251 1)" x="0.21 4.89 10.15" font-size="8.13" stroke="#000" stroke-width="0.15">L18</text>
<text transform="translate(350.9 318.08) rotate(0.06) scale(0.9322 1)" x="0.19 4.83 10.03" font-size="8.13" stroke="#000" stroke-width="0.15">L19</text>
<text transform="translate(350.9 329.87) rotate(0.06) scale(0.9250 1)" x="0.21 4.82 10.16" font-size="8.13" stroke="#000" stroke-width="0.15">L20</text>
<text transform="translate(350.9 341.66) rotate(0.06) scale(0.9085 1)" x="0.26 4.95 10.35" font-size="8.13" stroke="#000" stroke-width="0.15">L21</text>
<text transform="translate(350.9 353.45) rotate(0.06) scale(0.9120 1)" x="0.25 4.92 10.22" font-size="8.13" stroke="#000" stroke-width="0.15">L22</text>
<text transform="translate(350.9 365.24) rotate(0.06) scale(0.9113 1)" x="0.25 4.93 10.35" font-size="8.13" stroke="#000" stroke-width="0.15">L23</text>
<text transform="translate(350.9 377.03) rotate(0.06) scale(0.9261 1)" x="0.21 4.81 10.14" font-size="8.13" stroke="#000" stroke-width="0.15">L24</text>
<text transform="translate(350.9 388.82) rotate(0.06) scale(0.9057 1)" x="0.27 4.97 10.39" font-size="8.13" stroke="#000" stroke-width="0.15">L25</text>
<text transform="translate(350.9 400.61) rotate(0.06) scale(0.9360 1)" x="0.18 4.74 10.01" font-size="8.13" stroke="#000" stroke-width="0.15">L26</text>
<text transform="translate(350.9 412.4) rotate(0.06) scale(0.9167 1)" x="0.23 4.88 10.25" font-size="8.13" stroke="#000" stroke-width="0.15">L27</text>
<text transform="translate(364.09 439.45) rotate(0.06) scale(0.8846 1)" x="0.27 4.49 6.8" font-size="6.84" stroke="#000" stroke-width="0.12">0.0</text>
<text transform="translate(420.19 439.45) rotate(0.06) scale(0.8686 1)" x="0.31 4.59 6.87" font-size="6.84" stroke="#000" stroke-width="0.12">0.2</text>
<text transform="translate(476.06 439.45) rotate(0.06) scale(0.8858 1)" x="0.27 4.48 6.78" font-size="6.84" stroke="#000" stroke-width="0.12">0.4</text>
<text transform="translate(532.08 439.45) rotate(0.06) scale(0.8984 1)" x="0.24 4.4 6.67" font-size="6.84" stroke="#000" stroke-width="0.12">0.6</text>
<text transform="translate(588.1 439.45) rotate(0.06) scale(0.8887 1)" x="0.26 4.46 6.76" font-size="6.84" stroke="#000" stroke-width="0.12">0.8</text>
<text transform="translate(643.96 439.45) rotate(0.06) scale(0.8644 1)" x="0.29 4.61 7" font-size="6.84" stroke="#000" stroke-width="0.12">1.0</text>
<text transform="translate(460.72 50.45) rotate(0.06) scale(1.0299 1)" x="0.83 14.16 23.32 33.3 38.43 50.65 61.03 67.53 77.48 87.86" font-size="14.82" font-weight="bold" stroke="#000" stroke-width="0.73">MLP Output</text>
<text transform="translate(431.17 66.65) rotate(0.06) scale(0.9982 1)" x="0.53 7.69 21.4 30.86 41 45.83 57.18 67.36 77.97 84.89 91.59 96.9 107.16 117.8 124.25 129.25 139.43 150.28" font-size="14.82" font-weight="bold" stroke="#000" stroke-width="0.73">(MLP Contribution)</text>
<text transform="translate(439.48 453.15) rotate(0.06) scale(1.0154 1)" x="0.33 9.98 19.95 29.86 36.1 45.01 50.32 61.06 67.55 77.52 87.11 97.11 106.91 111.74 116.56 121.86 128.2" font-size="14.61" font-weight="bold" stroke="#000" stroke-width="0.72">Top-1 Probability</text>
<g transform="translate(345.5 250) rotate(-90)">
<text transform="translate(-23.37 0) rotate(0.06) scale(1.0014 1)" x="0.29 9.47 19.54 29.15 39.16" font-size="14.82" font-weight="bold" stroke="#000" stroke-width="0.73">Layer</text>
</g>
</g>
<g>
<rect x="699.4" y="86.82" width="13.52" height="9.1" fill="rgb(166,76,166)"/>
<rect x="699.4" y="86.52" width="13.62" height="9.7" fill="none" stroke="#000" stroke-opacity="0.7" stroke-width="0.8"/>
<rect x="699.4" y="98.61" width="57.38" height="9.1" fill="rgb(166,76,166)"/>
<rect x="699.4" y="98.31" width="57.48" height="9.7" fill="none" stroke="#000" stroke-opacity="0.7" stroke-width="0.8"/>
<rect x="699.4" y="110.4" width="17.3" height="9.1" fill="rgb(166,76,166)"/>
<rect x="699.4" y="110.1" width="17.4" height="9.7" fill="none" stroke="#000" stroke-opacity="0.7" stroke-width="0.8"/>
<rect x="699.4" y="122.19" width="33.97" height="9.1" fill="rgb(166,76,166)"/>
<rect x="699.4" y="121.89" width="34.07" height="9.7" fill="none" stroke="#000" stroke-opacity="0.7" stroke-width="0.8"/>
<rect x="699.4" y="133.98" width="19.2" height="9.1" fill="rgb(166,76,166)"/>
<rect x="699.4" y="133.68" width="19.3" height="9.7" fill="none" stroke="#000" stroke-opacity="0.7" stroke-width="0.8"/>
<rect x="699.4" y="145.77" width="8.25" height="9.1" fill="rgb(166,76,166)"/>
<rect x="699.4" y="145.47" width="8.35" height="9.7" fill="none" stroke="#000" stroke-opacity="0.7" stroke-width="0.8"/>
<rect x="699.4" y="157.56" width="12.7" height="9.1" fill="rgb(166,76,166)"/>
<rect x="699.4" y="157.26" width="12.8" height="9.7" fill="none" stroke="#000" stroke-opacity="0.7" stroke-width="0.8"/>
<rect x="699.4" y="169.35" width="25.75" height="9.1" fill="rgb(166,76,166)"/>
<rect x="699.4" y="169.05" width="25.85" height="9.7" fill="none" stroke="#000" stroke-opacity="0.7" stroke-width="0.8"/>
<rect x="699.4" y="181.14" width="176.3" height="9.1" fill="rgb(166,76,166)"/>
<rect x="699.4" y="180.84" width="176.4" height="9.7" fill="none" stroke="#000" stroke-opacity="0.7" stroke-width="0.8"/>
<rect x="699.4" y="192.93" width="83.3" height="9.1" fill="rgb(166,76,166)"/>
<rect x="699.4" y="192.63" width="83.4" height="9.7" fill="none" stroke="#000" stroke-opacity="0.7" stroke-width="0.8"/>
<rect x="699.4" y="204.72" width="19.64" height="9.1" fill="rgb(166,76,166)"/>
<rect x="699.4" y="204.42" width="19.74" height="9.7" fill="none" stroke="#000" stroke-opacity="0.7" stroke-width="0.8"/>
<rect x="699.4" y="216.51" width="16.47" height="9.1" fill="rgb(166,76,166)"/>
<rect x="699.4" y="216.21" width="16.57" height="9.7" fill="none" stroke="#000" stroke-opacity="0.7" stroke-width="0.8"/>
<rect x="699.4" y="228.3" width="8.25" height="9.1" fill="rgb(166,76,166)"/>
<rect x="699.4" y="228" width="8.35" height="9.7" fill="none" stroke="#000" stroke-opacity="0.7" stroke-width="0.8"/>
<rect x="699.4" y="240.09" width="16.05" height="9.1" fill="rgb(166,76,166)"/>
<rect x="699.4" y="239.79" width="16.15" height="9.7" fill="none" stroke="#000" stroke-opacity="0.7" stroke-width="0.8"/>
<rect x="699.4" y="251.88" width="51.26" height="9.1" fill="rgb(166,76,166)"/>
<rect x="699.4" y="251.58" width="51.36" height="9.7" fill="none" stroke="#000" stroke-opacity="0.7" stroke-width="0.8"/>
<rect x="699.4" y="263.67" width="67.28" height="9.1" fill="rgb(166,76,166)"/>
<rect x="699.4" y="263.37" width="67.38" height="9.7" fill="none" stroke="#000" stroke-opacity="0.7" stroke-width="0.8"/>
<rect x="699.4" y="275.46" width="63.28" height="9.1" fill="rgb(166,76,166)"/>
<rect x="699.4" y="275.16" width="63.38" height="9.7" fill="none" stroke="#000" stroke-opacity="0.7" stroke-width="0.8"/>
<rect x="699.4" y="287.25" width="24.06" height="9.1" fill="rgb(166,76,166)"/>
<rect x="699.4" y="286.95" width="24.16" height="9.7" fill="none" stroke="#000" stroke-opacity="0.7" stroke-width="0.8"/>
<rect x="699.4" y="299.04" width="18.8" height="9.1" fill="rgb(166,76,166)"/>
<rect x="699.4" y="298.74" width="18.9" height="9.7" fill="none" stroke="#000" stroke-opacity="0.7" stroke-width="0.8"/>
<rect x="699.4" y="310.83" width="45.15" height="9.1" fill="rgb(166,76,166)"/>
<rect x="699.4" y="310.53" width="45.25" height="9.7" fill="none" stroke="#000" stroke-opacity="0.7" stroke-width="0.8"/>
<rect x="699.4" y="322.62" width="11.4" height="9.1" fill="rgb(166,76,166)"/>
<rect x="699.4" y="322.32" width="11.5" height="9.7" fill="none" stroke="#000" stroke-opacity="0.7" stroke-width="0.8"/>
<rect x="699.4" y="334.41" width="150.14" height="9.1" fill="rgb(166,76,166)"/>
<rect x="699.4" y="334.11" width="150.24" height="9.7" fill="none" stroke="#000" stroke-opacity="0.7" stroke-width="0.8"/>
<rect x="699.4" y="346.2" width="262.1" height="9.1" fill="rgb(166,76,166)"/>
<rect x="699.4" y="345.9" width="262.2" height="9.7" fill="none" stroke="#000" stroke-opacity="0.7" stroke-width="0.8"/>
<rect x="699.4" y="357.99" width="17.1" height="9.1" fill="rgb(76,146,76)"/>
<rect x="699.4" y="357.69" width="17.2" height="9.7" fill="none" stroke="#000" stroke-opacity="0.7" stroke-width="0.8"/>
<rect x="699.4" y="369.78" width="20.7" height="9.1" fill="rgb(166,76,166)"/>
<rect x="699.4" y="369.48" width="20.8" height="9.7" fill="none" stroke="#000" stroke-opacity="0.7" stroke-width="0.8"/>
<rect x="699.4" y="381.57" width="256.9" height="9.1" fill="rgb(166,76,166)"/>
<rect x="699.4" y="381.27" width="257" height="9.7" fill="none" stroke="#000" stroke-opacity="0.7" stroke-width="0.8"/>
<rect x="699.4" y="393.36" width="278.07" height="9.1" fill="rgb(76,146,76)"/>
<rect x="699.4" y="393.06" width="278.17" height="9.7" fill="none" stroke="#000" stroke-opacity="0.7" stroke-width="0.8"/>
<rect x="699.4" y="405.15" width="239.7" height="9.1" fill="rgb(166,76,166)"/>
<rect x="699.4" y="404.85" width="239.8" height="9.7" fill="none" stroke="#000" stroke-opacity="0.7" stroke-width="0.8"/>
<line x1="755.4" y1="70.4" x2="755.4" y2="430.5" stroke="#b0b0b0" stroke-opacity="0.3" stroke-width="0.75"/>
<line x1="811.4" y1="70.4" x2="811.4" y2="430.5" stroke="#b0b0b0" stroke-opacity="0.3" stroke-width="0.75"/>
<line x1="867.4" y1="70.4" x2="867.4" y2="430.5" stroke="#b0b0b0" stroke-opacity="0.3" stroke-width="0.75"/>
<line x1="923.4" y1="70.4" x2="923.4" y2="430.5" stroke="#b0b0b0" stroke-opacity="0.3" stroke-width="0.75"/>
<path d="M696.7 91.37H699.4M696.7 103.16H699.4M696.7 114.95H699.4M696.7 126.74H699.4M696.7 138.53H699.4M696.7 150.32H699.4M696.7 162.11H699.4M696.7 173.9H699.4M696.7 185.69H699.4M696.7 197.48H699.4M696.7 209.27H699.4M696.7 221.06H699.4M696.7 232.85H699.4M696.7 244.64H699.4M696.7 256.43H699.4M696.7 268.22H699.4M696.7 280.01H699.4M696.7 291.8H699.4M696.7 303.59H699.4M696.7 315.38H699.4M696.7 327.17H699.4M696.7 338.96H699.4M696.7 350.75H699.4M696.7 362.54H699.4M696.7 374.33H699.4M696.7 386.12H699.4M696.7 397.91H699.4M696.7 409.7H699.4M699.4 430.5V433.2M755.4 430.5V433.2M811.4 430.5V433.2M867.4 430.5V433.2M923.4 430.5V433.2M979.4 430.5V433.2" stroke="#000" stroke-width="0.62" fill="none"/>
<text transform="translate(718.42 93.47) rotate(0.06) scale(1.0116 1)" x="0.27 3.59 7.08 12.17 17.43" font-size="7.82" font-weight="bold" stroke="#000" stroke-width="0.38">-road</text>
<text transform="translate(764.94 105.26) rotate(0.06) scale(0.9764 1)" x="0.29 6.22 11.68 17.12 22.75" font-size="7.82" font-weight="bold" stroke="#000" stroke-width="0.38">Radar</text>
<text transform="translate(724.86 117.05) rotate(0.06) scale(0.9321 1)" x="0.12 5.3 10.83 13.64" font-size="7.82" font-weight="bold" stroke="#000" stroke-width="0.38">coli</text>
<text transform="translate(738.87 128.84) rotate(0.06) scale(1.0189 1)" x="0.29 3.2 6.42 11.5 16.3 20.96" font-size="7.82" font-weight="bold" stroke="#000" stroke-width="0.38">/tasks</text>
<text transform="translate(724.1 140.63) rotate(0.06) scale(0.9723 1)" x="0.33 3.53 6.38 11.83 14.8 18.29 20.92 26.29 28.99 31.73 36.41 39.4 42.39" font-size="7.82" font-weight="bold" stroke="#000" stroke-width="0.38">-initializ...</text>
<text transform="translate(715.81 152.42) rotate(0.06) scale(1.0317 1)" x="0.17 5.62 8.41" font-size="7.82" font-weight="bold" stroke="#000" stroke-width="0.38">Pit</text>
<text transform="translate(720.26 164.21) rotate(0.06) scale(1.0005 1)" x="0.23 2.76 7.14 12.9 20.76 26.32 29.78" font-size="7.82" font-weight="bold" stroke="#000" stroke-width="0.38">isEmpty</text>
<text transform="translate(733.31 176) rotate(0.06) scale(1.0488 1)" x="0.41 3.86 7.1 12.21 17.02 22.08 25.34 29.91" font-size="7.82" font-weight="bold" stroke="#000" stroke-width="0.38">traverse</text>
<text transform="translate(881.2 187.79) rotate(0.06) scale(1.0007 1)" x="0.24 5.73 9.25 11.88 17.22 22.48 27.11 29.79" font-size="7.82" font-weight="bold" stroke="#000" stroke-width="0.38">oriously</text>
<text transform="translate(790.86 199.58) rotate(0.06) scale(1.0514 1)" x="0.37 6.5" font-size="7.82" font-weight="bold" stroke="#000" stroke-width="0.38">&amp;:</text>
<text transform="translate(724.54 211.37) rotate(0.06) scale(1.0377 1)" x="0.18 2.67 7.83 13.05 18.3 20.93 25.97 29.27 32.77 36.19 38.85 41.65 44.45" font-size="7.82" font-weight="bold" stroke="#000" stroke-width="0.38">longleftri...</text>
<text transform="translate(724.03 223.16) rotate(0.06) scale(0.9892 1)" x="0.16 5.59 11.05 16.5 19.32 24.32" font-size="7.82" font-weight="bold" stroke="#000" stroke-width="0.38">angles</text>
<text transform="translate(715.81 234.95) rotate(0.06) scale(0.9818 1)" x="0 4.91 10.37 15.89 20.85 23.66" font-size="7.82" font-weight="bold" stroke="#000" stroke-width="0.38">convin</text>
<text transform="translate(720.95 246.74) rotate(0.06) scale(0.9266 1)" x="0.09 6.53 13.55" font-size="7.82" font-weight="bold" stroke="#000" stroke-width="0.38">COR</text>
<text transform="translate(756.16 259.13) rotate(0.06) scale(1.0696 1)" x="0.16" font-size="7.82" font-weight="bold" stroke="#000" stroke-width="0.38">V</text>
<rect x="759.11" y="251.78" width="2.36" height="0.9" fill="#000" fill-opacity="0.4"/>
<text transform="translate(774.84 270.32) rotate(0.06) scale(1.0224 1)" x="0.14 5.94 10.99 15.68 20.71 26.1 31.44 36.62 40.12" font-size="7.82" font-weight="bold" stroke="#000" stroke-width="0.38">Rosenberg</text>
<text transform="translate(768.18 282.11) rotate(0.06) scale(1.0349 1)" x="0.29 6.32 8.91 13.67 16.23 21.61 26.73" font-size="7.82" font-weight="bold" stroke="#000" stroke-width="0.38">Divider</text>
<text transform="translate(728.96 293.9) rotate(0.06) scale(0.9648 1)" x="0.22 5.76 10.8 13.46 19.03" font-size="7.82" font-weight="bold" stroke="#000" stroke-width="0.38">avian</text>
<text transform="translate(726.36 305.69) rotate(0.06) scale(1.0579 1)" x="0.16 5.42 10.32" font-size="7.82" font-weight="bold" stroke="#000" stroke-width="0.38">gep</text>
<text transform="translate(752.71 317.48) rotate(0.06) scale(0.9725 1)" x="0.03 4.98 10.49 15.87 20.66 26.17" font-size="7.82" font-weight="bold" stroke="#000" stroke-width="0.38">conson</text>
<text transform="translate(718.96 329.27) rotate(0.06) scale(1.0536 1)" x="0.17 5.45 10.29 15.51 20.74 25.6 30.83" font-size="7.82" font-weight="bold" stroke="#000" stroke-width="0.38">dequeue</text>
<text transform="translate(855.04 341.06) rotate(0.06) scale(1.0519 1)" x="0.19 5.58 8.66 13.93" font-size="7.82" font-weight="bold" stroke="#000" stroke-width="0.38">htar</text>
<text transform="translate(969.66 352.85) rotate(0.06) scale(0.9946 1)" x="-0.02 5.49 8.21 13.74 19.37" font-size="7.82" font-weight="bold" stroke="#000" stroke-width="0.38">Eight</text>
<text transform="translate(722 364.64) rotate(0.06) scale(1.0138 1)" x="0.41" font-size="7.82" font-weight="bold" stroke="#000" stroke-width="0.38">4</text>
<text transform="translate(725.6 376.43) rotate(0.06) scale(1.0467 1)" x="0.38 3.87 8.83 13.56" font-size="7.82" font-weight="bold" stroke="#000" stroke-width="0.38">rees</text>
<text transform="translate(961.8 388.22) rotate(0.06) scale(1.1449 1)" x="0.88" font-size="7.82" font-weight="bold" stroke="#000" stroke-width="0.38">{</text>
<text transform="translate(982.97 400.01) rotate(0.06) scale(1.0138 1)" x="0.41" font-size="7.82" font-weight="bold" stroke="#000" stroke-width="0.38">4</text>
<rect x="699.4" y="70.4" width="280" height="360.1" fill="none" stroke="#000" stroke-width="0.63"/>
<text transform="translate(686.23 94.07) rotate(0.06) scale(0.9331 1)" x="0.19 4.87" font-size="8.13" stroke="#000" stroke-width="0.15">L0</text>
<text transform="translate(686.23 105.86) rotate(0.06) scale(0.9085 1)" x="0.26 5.02" font-size="8.13" stroke="#000" stroke-width="0.15">L1</text>
<text transform="translate(686.23 117.65) rotate(0.06) scale(0.9137 1)" x="0.24 4.91" font-size="8.13" stroke="#000" stroke-width="0.15">L2</text>
<text transform="translate(686.23 129.44) rotate(0.06) scale(0.9127 1)" x="0.25 5.03" font-size="8.13" stroke="#000" stroke-width="0.15">L3</text>
<text transform="translate(686.23 141.23) rotate(0.06) scale(0.9346 1)" x="0.18 4.85" font-size="8.13" stroke="#000" stroke-width="0.15">L4</text>
<text transform="translate(686.23 153.02) rotate(0.06) scale(0.9042 1)" x="0.27 5.06" font-size="8.13" stroke="#000" stroke-width="0.15">L5</text>
<text transform="translate(686.23 164.81) rotate(0.06) scale(0.9498 1)" x="0.14 4.74" font-size="8.13" stroke="#000" stroke-width="0.15">L6</text>
<text transform="translate(686.23 176.6) rotate(0.06) scale(0.9209 1)" x="0.22 4.94" font-size="8.13" stroke="#000" stroke-width="0.15">L7</text>
<text transform="translate(686.23 188.39) rotate(0.06) scale(0.9381 1)" x="0.17 4.83" font-size="8.13" stroke="#000" stroke-width="0.15">L8</text>
<text transform="translate(686.23 200.18) rotate(0.06) scale(0.9488 1)" x="0.14 4.72" font-size="8.13" stroke="#000" stroke-width="0.15">L9</text>
<text transform="translate(681.4 211.97) rotate(0.06) scale(0.9218 1)" x="0.22 4.92 10.2" font-size="8.13" stroke="#000" stroke-width="0.15">L10</text>
<text transform="translate(681.4 223.76) rotate(0.06) scale(0.9049 1)" x="0.27 5.05 10.4" font-size="8.13" stroke="#000" stroke-width="0.15">L11</text>
<text transform="translate(681.4 235.55) rotate(0.06) scale(0.9085 1)" x="0.26 5.02 10.27" font-size="8.13" stroke="#000" stroke-width="0.15">L12</text>
<text transform="translate(681.4 247.34) rotate(0.06) scale(0.9078 1)" x="0.26 5.03 10.4" font-size="8.13" stroke="#000" stroke-width="0.15">L13</text>
<text transform="translate(681.4 259.13) rotate(0.06) scale(0.9230 1)" x="0.22 4.91 10.18" font-size="8.13" stroke="#000" stroke-width="0.15">L14</text>
<text transform="translate(681.4 270.92) rotate(0.06) scale(0.9021 1)" x="0.28 5.08 10.44" font-size="8.13" stroke="#000" stroke-width="0.15">L15</text>
<text transform="translate(681.4 282.71) rotate(0.06) scale(0.9329 1)" x="0.19 4.83 10.05" font-size="8.13" stroke="#000" stroke-width="0.15">L16</text>
<text transform="translate(681.4 294.5) rotate(0.06) scale(0.9133 1)" x="0.24 4.98 10.3" font-size="8.13" stroke="#000" stroke-width="0.15">L17</text>
<text transform="translate(681.4 306.29) rotate(0.06) scale(0.9251 1)" x="0.21 4.89 10.15" font-size="8.13" stroke="#000" stroke-width="0.15">L18</text>
<text transform="translate(681.4 318.08) rotate(0.06) scale(0.9322 1)" x="0.19 4.83 10.03" font-size="8.13" stroke="#000" stroke-width="0.15">L19</text>
<text transform="translate(681.4 329.87) rotate(0.06) scale(0.9250 1)" x="0.21 4.82 10.16" font-size="8.13" stroke="#000" stroke-width="0.15">L20</text>
<text transform="translate(681.4 341.66) rotate(0.06) scale(0.9085 1)" x="0.26 4.95 10.35" font-size="8.13" stroke="#000" stroke-width="0.15">L21</text>
<text transform="translate(681.4 353.45) rotate(0.06) scale(0.9120 1)" x="0.25 4.92 10.22" font-size="8.13" stroke="#000" stroke-width="0.15">L22</text>
<text transform="translate(681.4 365.24) rotate(0.06) scale(0.9113 1)" x="0.25 4.93 10.35" font-size="8.13" stroke="#000" stroke-width="0.15">L23</text>
<text transform="translate(681.4 377.03) rotate(0.06) scale(0.9261 1)" x="0.21 4.81 10.14" font-size="8.13" stroke="#000" stroke-width="0.15">L24</text>
<text transform="translate(681.4 388.82) rotate(0.06) scale(0.9057 1)" x="0.27 4.97 10.39" font-size="8.13" stroke="#000" stroke-width="0.15">L25</text>
<text transform="translate(681.4 400.61) rotate(0.06) scale(0.9360 1)" x="0.18 4.74 10.01" font-size="8.13" stroke="#000" stroke-width="0.15">L26</text>
<text transform="translate(681.4 412.4) rotate(0.06) scale(0.9167 1)" x="0.23 4.88 10.25" font-size="8.13" stroke="#000" stroke-width="0.15">L27</text>
<text transform="translate(694.59 439.45) rotate(0.06) scale(0.8846 1)" x="0.27 4.49 6.8" font-size="6.84" stroke="#000" stroke-width="0.12">0.0</text>
<text transform="translate(750.69 439.45) rotate(0.06) scale(0.8686 1)" x="0.31 4.59 6.87" font-size="6.84" stroke="#000" stroke-width="0.12">0.2</text>
<text transform="translate(806.56 439.45) rotate(0.06) scale(0.8858 1)" x="0.27 4.48 6.78" font-size="6.84" stroke="#000" stroke-width="0.12">0.4</text>
<text transform="translate(862.58 439.45) rotate(0.06) scale(0.8984 1)" x="0.24 4.4 6.67" font-size="6.84" stroke="#000" stroke-width="0.12">0.6</text>
<text transform="translate(918.6 439.45) rotate(0.06) scale(0.8887 1)" x="0.26 4.46 6.76" font-size="6.84" stroke="#000" stroke-width="0.12">0.8</text>
<text transform="translate(974.46 439.45) rotate(0.06) scale(0.8644 1)" x="0.29 4.61 7" font-size="6.84" stroke="#000" stroke-width="0.12">1.0</text>
<text transform="translate(769.69 50.45) rotate(0.06) scale(1.0727 1)" x="-0.11 11.16 17.62 23.78 32.85 42.87 48.9 53.39 62.85 72.18 76.87 88.65 98.7 104.86 114.42 124.46" font-size="14.82" font-weight="bold" stroke="#000" stroke-width="0.73">Attention Output</text>
<text transform="translate(740.1 66.65) rotate(0.06) scale(1.0353 1)" x="0.41 6.48 18.05 24.75 31.19 40.6 50.91 57.15 61.88 71.69 81.19 85.66 96.63 106.44 116.75 123.4 129.89 134.92 144.82 155.15 161.38 166.12 175.93 186.48" font-size="14.82" font-weight="bold" stroke="#000" stroke-width="0.73">(Attention Contribution)</text>
<text transform="translate(769.98 453.15) rotate(0.06) scale(1.0154 1)" x="0.33 9.98 19.95 29.86 36.1 45.01 50.32 61.06 67.55 77.52 87.11 97.11 106.91 111.74 116.56 121.86 128.2" font-size="14.61" font-weight="bold" stroke="#000" stroke-width="0.72">Top-1 Probability</text>
<g transform="translate(675.6 250) rotate(-90)">
<text transform="translate(-23.37 0) rotate(0.06) scale(1.0014 1)" x="0.29 9.47 19.54 29.15 39.16" font-size="14.82" font-weight="bold" stroke="#000" stroke-width="0.73">Layer</text>
</g>
</g>
<line x1="387.5" y1="171.3" x2="389.2" y2="165.7" stroke="#000" stroke-width="1.25"/>
</svg>
</body></html>
